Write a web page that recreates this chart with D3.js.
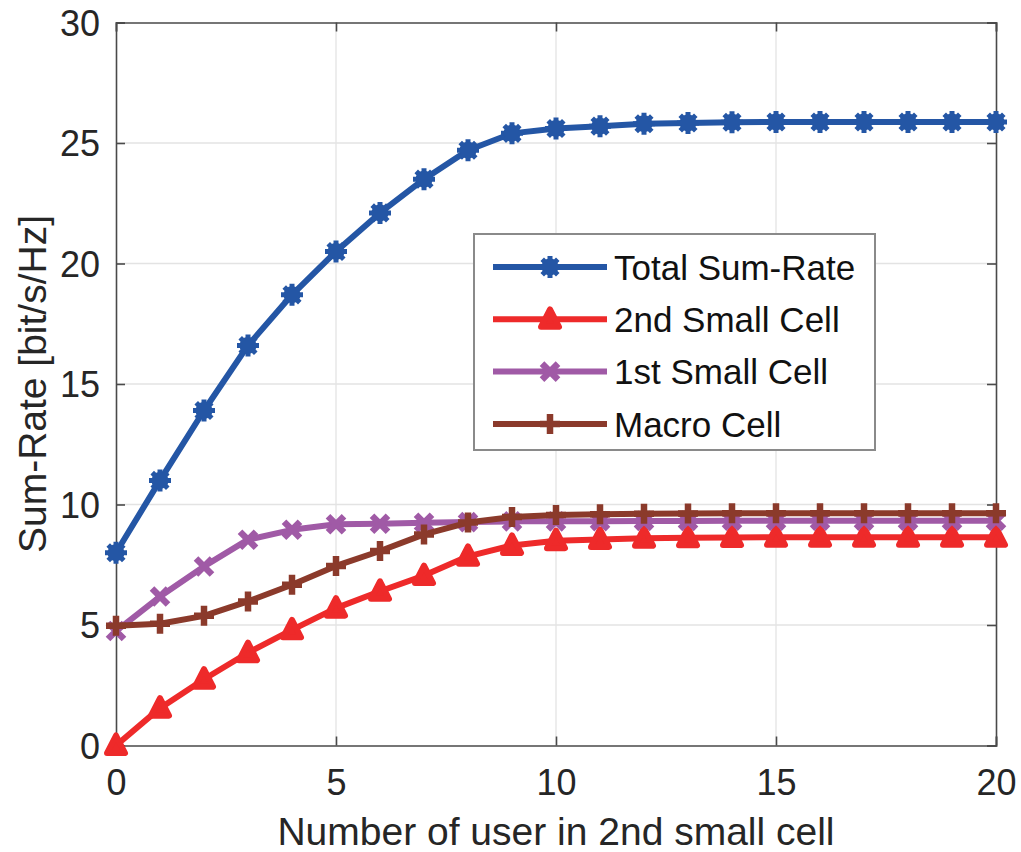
<!DOCTYPE html>
<html>
<head>
<meta charset="utf-8">
<script src="https://cdn.jsdelivr.net/npm/d3@7"></script>
<style>
    body { margin: 0; background: #fff; }
    svg { display: block; font-family: "Liberation Sans", Arial, sans-serif; }
</style>
</head>
<body>
<div id="chart"></div>
<script>
/* Sum-rate vs number of users, MATLAB-style line chart */

const USERS = [0, 1, 2, 3, 4, 5, 6, 7, 8, 9, 10, 11, 12, 13, 14, 15, 16, 17, 18, 19, 20];
const TOTAL = [8.0, 11.0, 13.9, 16.6, 18.7, 20.5, 22.1, 23.5, 24.7, 25.4, 25.6, 25.7, 25.8, 25.83, 25.86, 25.87, 25.87, 25.87, 25.87, 25.87, 25.87];
const SECOND_SMALL = [0.0, 1.55, 2.75, 3.85, 4.8, 5.7, 6.4, 7.05, 7.85, 8.3, 8.5, 8.55, 8.6, 8.62, 8.63, 8.64, 8.64, 8.64, 8.64, 8.64, 8.64];
const FIRST_SMALL = [4.75, 6.18, 7.43, 8.54, 8.95, 9.18, 9.2, 9.24, 9.27, 9.3, 9.3, 9.31, 9.32, 9.32, 9.33, 9.33, 9.33, 9.33, 9.33, 9.33, 9.33];
const MACRO = [4.97, 5.05, 5.38, 5.98, 6.67, 7.45, 8.07, 8.76, 9.25, 9.48, 9.56, 9.6, 9.62, 9.63, 9.64, 9.64, 9.64, 9.64, 9.64, 9.64, 9.64];

const X_TICKS = [0, 5, 10, 15, 20];
const Y_TICKS = [0, 5, 10, 15, 20, 25, 30];

const SERIES = [
    { name: 'Total Sum-Rate', values: TOTAL, color: '#2456a5', marker: 'star' },
    { name: '2nd Small Cell', values: SECOND_SMALL, color: '#ee2a2a', marker: 'triangle' },
    { name: '1st Small Cell', values: FIRST_SMALL, color: '#a05aa6', marker: 'cross' },
    { name: 'Macro Cell', values: MACRO, color: '#8b3a2b', marker: 'plus' },
];

const W = 1021, H = 852;
const margin = { left: 116, top: 22.5, right: 25, bottom: 106.5 };
const innerW = W - margin.left - margin.right;
const innerH = H - margin.top - margin.bottom;
const TEXT = '#262626';
const AXIS = '#4a4a4a';
const LINE_W = 6;

const svg = d3.select('#chart').append('svg')
    .attr('width', W)
    .attr('height', H);

const g = svg.append('g').attr('transform', `translate(${margin.left},${margin.top})`);

const x = d3.scaleLinear().domain([0, 20]).range([0, innerW]);
const y = d3.scaleLinear().domain([0, 30]).range([innerH, 0]);

// Grid
g.append('g').selectAll('line')
    .data(X_TICKS.slice(1, -1))
    .join('line')
    .attr('x1', d => x(d)).attr('x2', d => x(d))
    .attr('y1', 0).attr('y2', innerH)
    .attr('stroke', '#e3e3e3').attr('stroke-width', 1.3);
g.append('g').selectAll('line')
    .data(Y_TICKS.slice(1, -1))
    .join('line')
    .attr('x1', 0).attr('x2', innerW)
    .attr('y1', d => y(d)).attr('y2', d => y(d))
    .attr('stroke', '#e3e3e3').attr('stroke-width', 1.3);

// Axes (ticks inward, mirrored on top/right)
const tickLen = 9;
const xAxis = g.append('g').attr('transform', `translate(0,${innerH})`)
    .call(d3.axisBottom(x).tickValues(X_TICKS).tickSize(-tickLen).tickPadding(24));
const yAxis = g.append('g')
    .call(d3.axisLeft(y).tickValues(Y_TICKS).tickSize(-tickLen).tickPadding(16));
const xTop = g.append('g')
    .call(d3.axisTop(x).tickValues(X_TICKS).tickSize(-tickLen).tickFormat(''));
const yRight = g.append('g').attr('transform', `translate(${innerW},0)`)
    .call(d3.axisRight(y).tickValues(Y_TICKS).tickSize(-tickLen).tickFormat(''));

[xAxis, yAxis, xTop, yRight].forEach(a => {
    a.select('.domain').attr('stroke', AXIS).attr('stroke-width', 1.6);
    a.selectAll('.tick line').attr('stroke', AXIS).attr('stroke-width', 1.6);
    a.selectAll('.tick text')
        .attr('fill', TEXT)
        .attr('font-size', 36)
        .attr('font-family', '"Liberation Sans", Arial, sans-serif');
});
xAxis.selectAll('.tick text').attr('dy', '0.71em');
yAxis.selectAll('.tick text').attr('dy', '0.36em');

// Axis labels
svg.append('text')
    .attr('x', margin.left + innerW / 2)
    .attr('y', 845)
    .attr('text-anchor', 'middle')
    .attr('font-size', 39)
    .attr('fill', TEXT)
    .text('Number of user in 2nd small cell');

svg.append('text')
    .attr('transform', `translate(46,${margin.top + innerH / 2}) rotate(-90)`)
    .attr('text-anchor', 'middle')
    .attr('font-size', 39)
    .attr('fill', TEXT)
    .text('Sum-Rate [bit/s/Hz]');

// Marker drawing
function drawMarker(sel, type, color) {
    if (type === 'star') {
        const r = 11;
        const d = [0, 45, 90, 135].map(a => {
            const rad = a * Math.PI / 180;
            const dx = r * Math.cos(rad), dy = r * Math.sin(rad);
            return `M${-dx},${-dy}L${dx},${dy}`;
        }).join('');
        sel.append('circle').attr('r', 8.5).attr('fill', color);
        sel.append('path').attr('d', d).attr('stroke', color).attr('stroke-width', 5).attr('fill', 'none');
    } else if (type === 'triangle') {
        const s = 10;
        sel.append('path')
            .attr('d', `M0,${-s}L${s * 0.9},${s * 0.75}L${-s * 0.9},${s * 0.75}Z`)
            .attr('fill', color).attr('stroke', color).attr('stroke-width', 6)
            .attr('stroke-linejoin', 'round');
    } else if (type === 'cross') {
        const s = 8;
        sel.append('path')
            .attr('d', `M${-s},${-s}L${s},${s}M${-s},${s}L${s},${-s}`)
            .attr('stroke', color).attr('stroke-width', 6.5).attr('fill', 'none');
    } else if (type === 'plus') {
        const s = 10;
        sel.append('path')
            .attr('d', `M${-s},0L${s},0M0,${-s}L0,${s}`)
            .attr('stroke', color).attr('stroke-width', 6.5).attr('fill', 'none');
    }
}

const line = d3.line()
    .x((d, i) => x(USERS[i]))
    .y(d => y(d));

SERIES.forEach(s => {
    const sg = g.append('g');
    sg.append('path')
        .datum(s.values)
        .attr('d', line)
        .attr('fill', 'none')
        .attr('stroke', s.color)
        .attr('stroke-width', LINE_W)
        .attr('stroke-linejoin', 'round');
    sg.selectAll('.mk')
        .data(s.values)
        .join('g')
        .attr('class', 'mk')
        .attr('transform', (d, i) => `translate(${x(USERS[i])},${y(d)})`)
        .each(function () { drawMarker(d3.select(this), s.marker, s.color); });
});

// Legend
const legend = svg.append('g').attr('transform', 'translate(474,234)');
legend.append('rect')
    .attr('width', 401).attr('height', 216)
    .attr('fill', '#fff')
    .attr('stroke', '#8a8a8a').attr('stroke-width', 2);

SERIES.forEach((s, i) => {
    const ly = 33 + i * 52.3;
    const row = legend.append('g').attr('transform', `translate(0,${ly})`);
    row.append('line')
        .attr('x1', 19).attr('x2', 133)
        .attr('stroke', s.color).attr('stroke-width', LINE_W);
    const mk = row.append('g').attr('transform', 'translate(76,0)');
    drawMarker(mk, s.marker, s.color);
    row.append('text')
        .attr('x', 140)
        .attr('y', 0)
        .attr('dy', '0.36em')
        .attr('font-size', 35)
        .attr('fill', '#111')
        .text(s.name);
});
</script>
</body>
</html>
